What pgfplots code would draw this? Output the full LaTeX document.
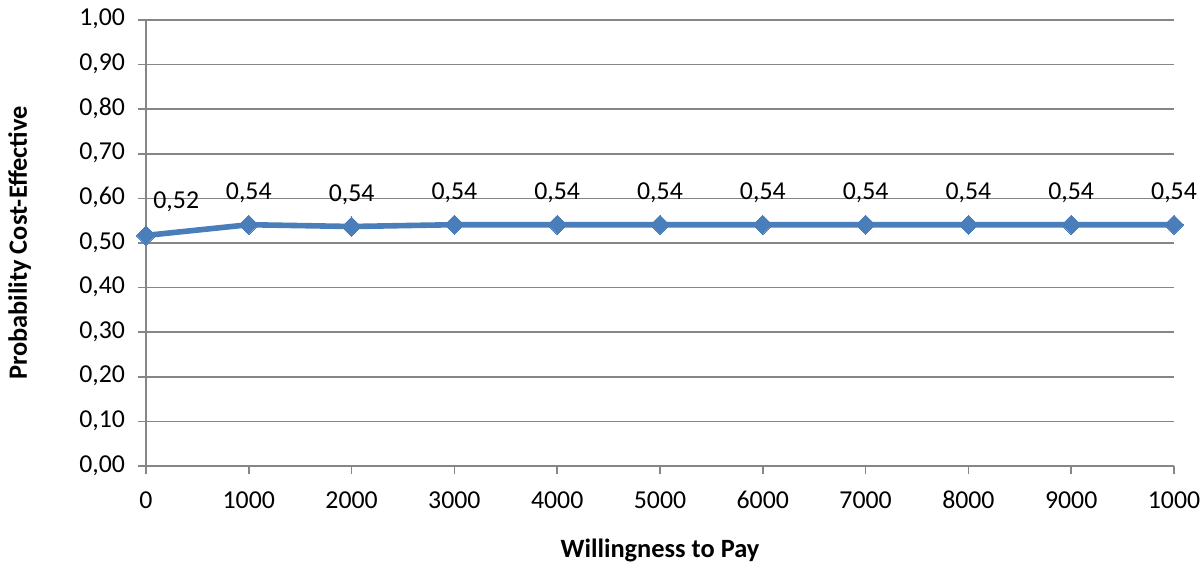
\documentclass[border=0pt]{standalone}
\usepackage{fontspec}
\setmainfont{Carlito}
\usepackage{pgfplots}
\pgfplotsset{compat=1.18}

\definecolor{serblue}{HTML}{4A7EBB}
\definecolor{axgray}{HTML}{868686}

\begin{document}
\begin{tikzpicture}
\begin{axis}[
    scale only axis,
    width=514pt, height=223pt,
    at={(0,0)}, anchor=south west,
    xmin=0, xmax=10,
    ymin=0, ymax=1,
    xtick={0,1,...,10},
    xticklabels={0,1000,2000,3000,4000,5000,6000,7000,8000,9000,1000},
    ytick={0,0.1,...,1.0},
    axis x line*=bottom,
    axis y line*=left,
    axis line style={axgray, line width=0.8pt, -},
    tick style={axgray, line width=0.8pt},
    tick align=outside,
    major tick length=4pt,
    ymajorgrids,
    grid style={axgray, line width=0.8pt},
    /pgf/number format/assume math mode=true,
    typeset ticklabels with strut,
    ticklabel style={font=\fontsize{12.9}{15}\selectfont},
    xticklabel style={yshift=-3pt},
    yticklabel style={xshift=-3pt, /pgf/number format/.cd, fixed, fixed zerofill, precision=2, use comma},
    xlabel={Willingness to Pay},
    ylabel={Probability Cost-Effective},
    label style={font=\bfseries\fontsize{13.2}{15}\selectfont},
    xlabel style={at={(axis description cs:0.5,-0.19)}, anchor=center},
    ylabel style={at={(axis description cs:-0.123,0.5)}, anchor=center},
    clip=false,
]
% series
\addplot[serblue, line width=2.8pt, mark=square*, mark size=3.4pt,
    mark options={rotate=45, solid, fill=serblue, draw=serblue, line width=0pt}]
coordinates {
    (0,0.517) (1,0.541) (2,0.537) (3,0.541) (4,0.541) (5,0.541)
    (6,0.541) (7,0.541) (8,0.541) (9,0.541) (10,0.541)
};
% data labels
\addplot[draw=none, nodes near coords,
    /pgf/number format/.cd, fixed, fixed zerofill, precision=2, use comma,
    /pgfplots/every node near coord/.append style={anchor=base, yshift=12.5pt, font=\fontsize{12.9}{15}\selectfont, inner sep=0pt, black}]
coordinates {
    (1,0.541) (2,0.537) (3,0.541) (4,0.541) (5,0.541)
    (6,0.541) (7,0.541) (8,0.541) (9,0.541) (10,0.541)
};
\addplot[draw=none, nodes near coords,
    /pgf/number format/.cd, fixed, fixed zerofill, precision=2, use comma,
    /pgfplots/every node near coord/.append style={anchor=base west, xshift=3.5pt, yshift=13.5pt, font=\fontsize{12.9}{15}\selectfont, inner sep=0pt, black}]
coordinates {(0,0.517)};
\end{axis}
\pgfresetboundingbox
\path[use as bounding box] (-73pt,-56.5pt) rectangle (527pt,233pt);
\end{tikzpicture}
\end{document}
